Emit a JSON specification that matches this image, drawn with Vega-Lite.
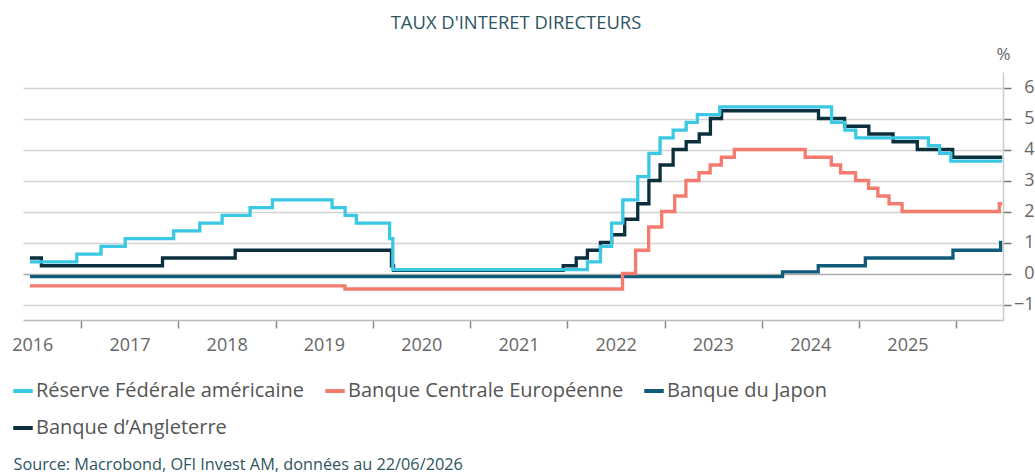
{
  "$schema": "https://vega.github.io/schema/vega-lite/v6.json",
  "width": 980,
  "height": 248,
  "autosize": {"type": "none"},
  "padding": {"left": 23, "top": 72, "right": 32, "bottom": 154},
  "background": "white",
  "title": {
    "text": "TAUX D'INTERET DIRECTEURS",
    "anchor": "middle",
    "frame": "group",
    "offset": 13,
    "dx": 3,
    "font": "Open Sans",
    "fontSize": 18.4,
    "fontWeight": "normal",
    "color": "#2d5561"
  },
  "config": {
    "view": {"stroke": null},
    "font": "Open Sans"
  },
  "data": {
    "values": [
      {"date": "2016-06-22", "bank": "Banque d’Angleterre", "rate": 0.5},
      {"date": "2016-08-04", "bank": "Banque d’Angleterre", "rate": 0.25},
      {"date": "2017-11-02", "bank": "Banque d’Angleterre", "rate": 0.5},
      {"date": "2018-08-02", "bank": "Banque d’Angleterre", "rate": 0.75},
      {"date": "2020-03-11", "bank": "Banque d’Angleterre", "rate": 0.25},
      {"date": "2020-03-19", "bank": "Banque d’Angleterre", "rate": 0.1},
      {"date": "2021-12-16", "bank": "Banque d’Angleterre", "rate": 0.25},
      {"date": "2022-02-03", "bank": "Banque d’Angleterre", "rate": 0.5},
      {"date": "2022-03-17", "bank": "Banque d’Angleterre", "rate": 0.75},
      {"date": "2022-05-05", "bank": "Banque d’Angleterre", "rate": 1.0},
      {"date": "2022-06-16", "bank": "Banque d’Angleterre", "rate": 1.25},
      {"date": "2022-08-04", "bank": "Banque d’Angleterre", "rate": 1.75},
      {"date": "2022-09-22", "bank": "Banque d’Angleterre", "rate": 2.25},
      {"date": "2022-11-03", "bank": "Banque d’Angleterre", "rate": 3.0},
      {"date": "2022-12-15", "bank": "Banque d’Angleterre", "rate": 3.5},
      {"date": "2023-02-02", "bank": "Banque d’Angleterre", "rate": 4.0},
      {"date": "2023-03-23", "bank": "Banque d’Angleterre", "rate": 4.25},
      {"date": "2023-05-11", "bank": "Banque d’Angleterre", "rate": 4.5},
      {"date": "2023-06-22", "bank": "Banque d’Angleterre", "rate": 5.0},
      {"date": "2023-08-03", "bank": "Banque d’Angleterre", "rate": 5.25},
      {"date": "2024-08-01", "bank": "Banque d’Angleterre", "rate": 5.0},
      {"date": "2024-11-07", "bank": "Banque d’Angleterre", "rate": 4.75},
      {"date": "2025-02-06", "bank": "Banque d’Angleterre", "rate": 4.5},
      {"date": "2025-05-08", "bank": "Banque d’Angleterre", "rate": 4.25},
      {"date": "2025-08-07", "bank": "Banque d’Angleterre", "rate": 4.0},
      {"date": "2025-12-18", "bank": "Banque d’Angleterre", "rate": 3.75},
      {"date": "2026-06-22", "bank": "Banque d’Angleterre", "rate": 3.75},

      {"date": "2016-06-22", "bank": "Banque du Japon", "rate": -0.1},
      {"date": "2024-03-19", "bank": "Banque du Japon", "rate": 0.05},
      {"date": "2024-07-31", "bank": "Banque du Japon", "rate": 0.25},
      {"date": "2025-01-24", "bank": "Banque du Japon", "rate": 0.5},
      {"date": "2025-12-19", "bank": "Banque du Japon", "rate": 0.75},
      {"date": "2026-06-16", "bank": "Banque du Japon", "rate": 1.0},
      {"date": "2026-06-22", "bank": "Banque du Japon", "rate": 1.0},

      {"date": "2016-06-22", "bank": "Banque Centrale Européenne", "rate": -0.4},
      {"date": "2019-09-18", "bank": "Banque Centrale Européenne", "rate": -0.5},
      {"date": "2022-07-27", "bank": "Banque Centrale Européenne", "rate": 0.0},
      {"date": "2022-09-14", "bank": "Banque Centrale Européenne", "rate": 0.75},
      {"date": "2022-11-02", "bank": "Banque Centrale Européenne", "rate": 1.5},
      {"date": "2022-12-21", "bank": "Banque Centrale Européenne", "rate": 2.0},
      {"date": "2023-02-08", "bank": "Banque Centrale Européenne", "rate": 2.5},
      {"date": "2023-03-22", "bank": "Banque Centrale Européenne", "rate": 3.0},
      {"date": "2023-05-10", "bank": "Banque Centrale Européenne", "rate": 3.25},
      {"date": "2023-06-21", "bank": "Banque Centrale Européenne", "rate": 3.5},
      {"date": "2023-08-02", "bank": "Banque Centrale Européenne", "rate": 3.75},
      {"date": "2023-09-20", "bank": "Banque Centrale Européenne", "rate": 4.0},
      {"date": "2024-06-12", "bank": "Banque Centrale Européenne", "rate": 3.75},
      {"date": "2024-09-18", "bank": "Banque Centrale Européenne", "rate": 3.5},
      {"date": "2024-10-23", "bank": "Banque Centrale Européenne", "rate": 3.25},
      {"date": "2024-12-18", "bank": "Banque Centrale Européenne", "rate": 3.0},
      {"date": "2025-02-05", "bank": "Banque Centrale Européenne", "rate": 2.75},
      {"date": "2025-03-12", "bank": "Banque Centrale Européenne", "rate": 2.5},
      {"date": "2025-04-23", "bank": "Banque Centrale Européenne", "rate": 2.25},
      {"date": "2025-06-11", "bank": "Banque Centrale Européenne", "rate": 2.0},
      {"date": "2026-06-11", "bank": "Banque Centrale Européenne", "rate": 2.25},
      {"date": "2026-06-22", "bank": "Banque Centrale Européenne", "rate": 2.25},

      {"date": "2016-06-22", "bank": "Réserve Fédérale américaine", "rate": 0.375},
      {"date": "2016-12-15", "bank": "Réserve Fédérale américaine", "rate": 0.625},
      {"date": "2017-03-16", "bank": "Réserve Fédérale américaine", "rate": 0.875},
      {"date": "2017-06-15", "bank": "Réserve Fédérale américaine", "rate": 1.125},
      {"date": "2017-12-14", "bank": "Réserve Fédérale américaine", "rate": 1.375},
      {"date": "2018-03-22", "bank": "Réserve Fédérale américaine", "rate": 1.625},
      {"date": "2018-06-14", "bank": "Réserve Fédérale américaine", "rate": 1.875},
      {"date": "2018-09-27", "bank": "Réserve Fédérale américaine", "rate": 2.125},
      {"date": "2018-12-20", "bank": "Réserve Fédérale américaine", "rate": 2.375},
      {"date": "2019-08-01", "bank": "Réserve Fédérale américaine", "rate": 2.125},
      {"date": "2019-09-19", "bank": "Réserve Fédérale américaine", "rate": 1.875},
      {"date": "2019-10-31", "bank": "Réserve Fédérale américaine", "rate": 1.625},
      {"date": "2020-03-04", "bank": "Réserve Fédérale américaine", "rate": 1.125},
      {"date": "2020-03-16", "bank": "Réserve Fédérale américaine", "rate": 0.125},
      {"date": "2022-03-17", "bank": "Réserve Fédérale américaine", "rate": 0.375},
      {"date": "2022-05-05", "bank": "Réserve Fédérale américaine", "rate": 0.875},
      {"date": "2022-06-16", "bank": "Réserve Fédérale américaine", "rate": 1.625},
      {"date": "2022-07-28", "bank": "Réserve Fédérale américaine", "rate": 2.375},
      {"date": "2022-09-22", "bank": "Réserve Fédérale américaine", "rate": 3.125},
      {"date": "2022-11-03", "bank": "Réserve Fédérale américaine", "rate": 3.875},
      {"date": "2022-12-15", "bank": "Réserve Fédérale américaine", "rate": 4.375},
      {"date": "2023-02-02", "bank": "Réserve Fédérale américaine", "rate": 4.625},
      {"date": "2023-03-23", "bank": "Réserve Fédérale américaine", "rate": 4.875},
      {"date": "2023-05-04", "bank": "Réserve Fédérale américaine", "rate": 5.125},
      {"date": "2023-07-27", "bank": "Réserve Fédérale américaine", "rate": 5.375},
      {"date": "2024-09-19", "bank": "Réserve Fédérale américaine", "rate": 4.875},
      {"date": "2024-11-08", "bank": "Réserve Fédérale américaine", "rate": 4.625},
      {"date": "2024-12-19", "bank": "Réserve Fédérale américaine", "rate": 4.375},
      {"date": "2025-09-18", "bank": "Réserve Fédérale américaine", "rate": 4.125},
      {"date": "2025-10-30", "bank": "Réserve Fédérale américaine", "rate": 3.875},
      {"date": "2025-12-11", "bank": "Réserve Fédérale américaine", "rate": 3.625},
      {"date": "2026-06-22", "bank": "Réserve Fédérale américaine", "rate": 3.625}
    ]
  },
  "mark": {"type": "line", "interpolate": "step-after", "strokeWidth": 3.3, "strokeJoin": "miter", "strokeCap": "butt"},
  "encoding": {
    "x": {
      "field": "date",
      "type": "temporal",
      "scale": {
        "type": "utc",
        "domain": [
          {"year": 2016, "month": 5, "date": 27, "utc": true},
          {"year": 2026, "month": 6, "date": 25, "utc": true}
        ]
      },
      "axis": {
        "values": [
          {"year": 2016, "month": 7, "date": 1, "utc": true},
          {"year": 2017, "month": 1, "date": 1, "utc": true},
          {"year": 2017, "month": 7, "date": 1, "utc": true},
          {"year": 2018, "month": 1, "date": 1, "utc": true},
          {"year": 2018, "month": 7, "date": 1, "utc": true},
          {"year": 2019, "month": 1, "date": 1, "utc": true},
          {"year": 2019, "month": 7, "date": 1, "utc": true},
          {"year": 2020, "month": 1, "date": 1, "utc": true},
          {"year": 2020, "month": 7, "date": 1, "utc": true},
          {"year": 2021, "month": 1, "date": 1, "utc": true},
          {"year": 2021, "month": 7, "date": 1, "utc": true},
          {"year": 2022, "month": 1, "date": 1, "utc": true},
          {"year": 2022, "month": 7, "date": 1, "utc": true},
          {"year": 2023, "month": 1, "date": 1, "utc": true},
          {"year": 2023, "month": 7, "date": 1, "utc": true},
          {"year": 2024, "month": 1, "date": 1, "utc": true},
          {"year": 2024, "month": 7, "date": 1, "utc": true},
          {"year": 2025, "month": 1, "date": 1, "utc": true},
          {"year": 2025, "month": 7, "date": 1, "utc": true},
          {"year": 2026, "month": 1, "date": 1, "utc": true}
        ],
        "labelExpr": "utcmonth(datum.value) == 6 ? utcFormat(datum.value, '%Y') : ''",
        "tickOpacity": {"condition": {"test": "utcmonth(datum.value) == 6", "value": 0}, "value": 1},
        "grid": false,
        "domainColor": "#bbbbbb",
        "domainWidth": 1.5,
        "tickColor": "#888888",
        "tickWidth": 1.5,
        "tickSize": 8,
        "labelOverlap": false,
        "labelBound": false,
        "labelFlush": false,
        "labelFont": "Open Sans",
        "labelFontSize": 18,
        "labelColor": "#666666",
        "labelBaseline": "middle",
        "labelPadding": 17,
        "title": "Source: Macrobond, OFI Invest AM, données au 22/06/2026",
        "titleX": -10,
        "titleY": 144,
        "titleAlign": "left",
        "titleAnchor": "start",
        "titleBaseline": "middle",
        "titleFont": "Open Sans",
        "titleFontSize": 16.3,
        "titleFontWeight": "normal",
        "titleColor": "#2d5561"
      }
    },
    "y": {
      "field": "rate",
      "type": "quantitative",
      "scale": {"domain": [-1.5, 6.5], "nice": false, "zero": false},
      "axis": {
        "orient": "right",
        "values": [-1, 0, 1, 2, 3, 4, 5, 6],
        "format": "d",
        "grid": true,
        "gridColor": {"condition": {"test": "datum.value == 0", "value": "#aaaaaa"}, "value": "#d3d3d3"},
        "gridWidth": 1.5,
        "domainColor": "#cccccc",
        "domainWidth": 1.5,
        "tickColor": "#777777",
        "tickWidth": 1.5,
        "tickSize": 8,
        "labelFont": "Open Sans",
        "labelFontSize": 18,
        "labelColor": "#666666",
        "labelAlign": "right",
        "labelPadding": 23,
        "title": "%",
        "titleAngle": 0,
        "titleX": 0,
        "titleY": -18,
        "titleAlign": "center",
        "titleBaseline": "middle",
        "titleFont": "Open Sans",
        "titleFontSize": 17,
        "titleFontWeight": "normal",
        "titleColor": "#666666"
      }
    },
    "color": {
      "field": "bank",
      "type": "nominal",
      "scale": {
        "domain": ["Réserve Fédérale américaine", "Banque Centrale Européenne", "Banque du Japon", "Banque d’Angleterre"],
        "range": ["#3ac8e4", "#f47b6e", "#0f5b7a", "#0b2f3d"]
      },
      "legend": {
        "title": null,
        "orient": "none",
        "legendX": -12,
        "legendY": 307,
        "direction": "horizontal",
        "columns": 3,
        "padding": 0,
        "symbolType": "stroke",
        "symbolSize": 380,
        "symbolStrokeWidth": 4,
        "labelOffset": 1,
        "columnPadding": 12,
        "rowPadding": 15,
        "labelFont": "Open Sans",
        "labelFontSize": 20,
        "labelColor": "#555555",
        "labelLimit": 400
      }
    }
  }
}
